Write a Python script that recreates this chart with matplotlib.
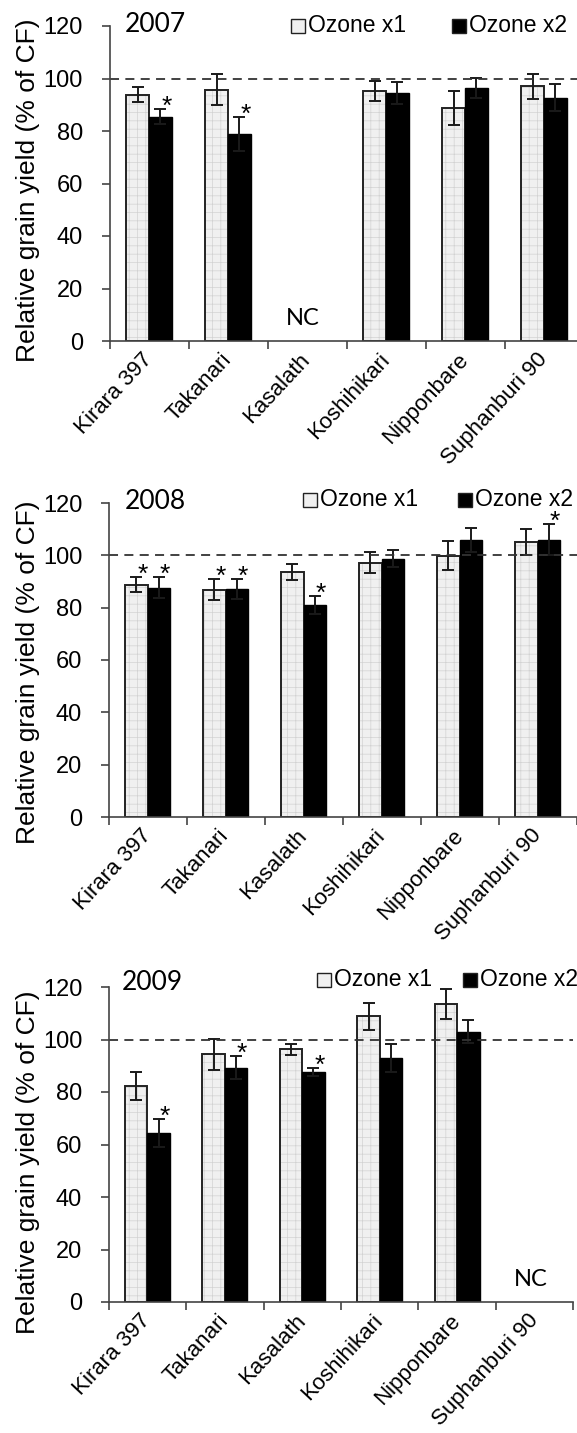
import numpy as np
import matplotlib.pyplot as plt
from matplotlib.patches import Rectangle

plt.rcParams['font.family'] = ['Liberation Sans', 'DejaVu Sans']
plt.rcParams['hatch.linewidth'] = 0.5

categories = ['Kirara 397', 'Takanari', 'Kasalath', 'Koshihikari', 'Nipponbare', 'Suphanburi 90']
years = ['2007', '2008', '2009']
series_names = ['Ozone x1', 'Ozone x2']
nan = np.nan

# relative grain yield (% of CF), error bars and significance marks
x1_2007 = [93.8, 95.8, nan, 95.2, 88.7, 97.1]
x1_2007_err = [2.8, 6.0, nan, 3.8, 6.5, 4.8]
x2_2007 = [85.4, 78.8, nan, 94.5, 96.5, 92.7]
x2_2007_err = [2.8, 6.5, nan, 4.1, 3.8, 5.2]
x1_2007_sig = [0, 0, 0, 0, 0, 0]
x2_2007_sig = [1, 1, 0, 0, 0, 0]

x1_2008 = [88.8, 86.9, 93.6, 97.1, 99.8, 105.2]
x1_2008_err = [3.0, 4.1, 3.0, 4.0, 5.5, 5.0]
x2_2008 = [87.7, 87.1, 81.0, 98.7, 106.0, 106.0]
x2_2008_err = [4.0, 3.9, 3.4, 3.2, 4.6, 5.9]
x1_2008_sig = [1, 1, 0, 0, 0, 0]
x2_2008_sig = [1, 1, 1, 0, 0, 1]

x1_2009 = [82.3, 94.3, 96.2, 108.8, 113.6, nan]
x1_2009_err = [5.4, 6.0, 2.2, 5.0, 5.8, nan]
x2_2009 = [64.4, 89.3, 87.7, 92.9, 103.0, nan]
x2_2009_err = [5.3, 4.4, 1.5, 5.2, 4.4, nan]
x1_2009_sig = [0, 0, 0, 0, 0, 0]
x2_2009_sig = [1, 1, 1, 0, 0, 0]

panels = [
    (x1_2007, x1_2007_err, x1_2007_sig, x2_2007, x2_2007_err, x2_2007_sig),
    (x1_2008, x1_2008_err, x1_2008_sig, x2_2008, x2_2008_err, x2_2008_sig),
    (x1_2009, x1_2009_err, x1_2009_sig, x2_2009, x2_2009_err, x2_2009_sig),
]

W, H = 577, 1433
fig = plt.figure(figsize=(W / 100, H / 100), dpi=100)

# layout in pixels: axes left, axes right, y of 0, y of 120
boxes = [(109.5, 583.5, 341, 26), (108.6, 576.6, 817, 503), (108.6, 573.4, 1302, 987)]
legend_pos = [(291, 452, 26), (302.5, 458, 500), (316.5, 463, 980)]
year_pos = [(125, 24), (125, 501.5), (122, 982.5)]
ylab_y = [0.478, 0.462, 0.444]

bw = 0.29
x = np.arange(len(categories))
light = '#f0f0f0'

for k, (v1, e1, s1, v2, e2, s2) in enumerate(panels):
    l, r, y0, y120 = boxes[k]
    ax = fig.add_axes([l / W, 1 - y0 / H, (r - l) / W, (y0 - y120) / H])
    v1 = np.array(v1); v2 = np.array(v2)
    e1 = np.array(e1); e2 = np.array(e2)

    ax.bar(x - bw / 2, v1, bw, color=light, edgecolor='#d2d2d2', hatch='++', linewidth=0)
    ax.bar(x - bw / 2, v1, bw, fill=False, edgecolor='#222222', linewidth=1.4)
    ax.bar(x + bw / 2, v2, bw, color='black', edgecolor='black', linewidth=1.0)
    ax.errorbar(x - bw / 2, v1, yerr=e1, fmt='none', ecolor='#1a1a1a',
                elinewidth=1.4, capsize=4.5, capthick=1.4)
    ax.errorbar(x + bw / 2, v2, yerr=e2, fmt='none', ecolor='#1a1a1a',
                elinewidth=1.4, capsize=4.5, capthick=1.4)

    for xs, vals, errs, sig in ((x - bw / 2, v1, e1, s1), (x + bw / 2, v2, e2, s2)):
        for xi, vi, ei, si in zip(xs, vals, errs, sig):
            if si:
                ax.text(xi + 0.08, vi + ei - 1.8, '*', fontsize=19, ha='center', va='baseline')

    for i in range(len(categories)):
        if np.isnan(v1[i]) and np.isnan(v2[i]):
            ax.text(x[i] - 0.05, 8.6, 'NC', fontsize=17, family='Lato', ha='center', va='center')

    ax.axhline(100, color='#333333', lw=1.3, ls=(0, (5, 3.5)))

    ax.set_xlim(-0.5, len(categories) - 0.5)
    ax.set_ylim(0, 120)
    ax.set_yticks(np.arange(0, 121, 20))
    ax.set_xticks(np.arange(-0.5, len(categories)), labels=[])
    ax.set_xticks(x, labels=categories, minor=True)
    ax.tick_params(axis='x', which='major', length=6, width=1.2, color='#444444')
    ax.tick_params(axis='x', which='minor', length=0, pad=11, labelsize=16)
    ax.tick_params(axis='y', length=6, width=1.2, color='#444444', pad=13, labelsize=17)
    for lab in ax.get_xticklabels(minor=True):
        lab.set_rotation(47)
        lab.set_ha('right')
        lab.set_va('center')
        lab.set_rotation_mode('anchor')
    for side in ('top', 'right'):
        ax.spines[side].set_visible(False)
    for side in ('left', 'bottom'):
        ax.spines[side].set_color('#444444')
        ax.spines[side].set_linewidth(1.2)

    ax.set_ylabel('Relative grain yield (% of CF)', fontsize=19)
    ax.yaxis.set_label_coords((40.5 - l) / (r - l), ylab_y[k])

    # year label and legend
    yx, yy = year_pos[k]
    fig.text(yx / W, 1 - yy / H, years[k], fontsize=19, family='Lato', ha='left', va='center')
    sq1, sq2, ly = legend_pos[k]
    for sx, name, fc in ((sq1, series_names[0], light), (sq2, series_names[1], 'black')):
        fig.add_artist(Rectangle((sx / W, 1 - (ly + 7) / H), 14 / W, 14 / H,
                                 transform=fig.transFigure, facecolor=fc,
                                 edgecolor='#222222', linewidth=1.0))
        fig.text((sx + 17) / W, 1 - ly / H, name, fontsize=16.5, ha='left', va='center')

fig.savefig('out.png', dpi=100)
